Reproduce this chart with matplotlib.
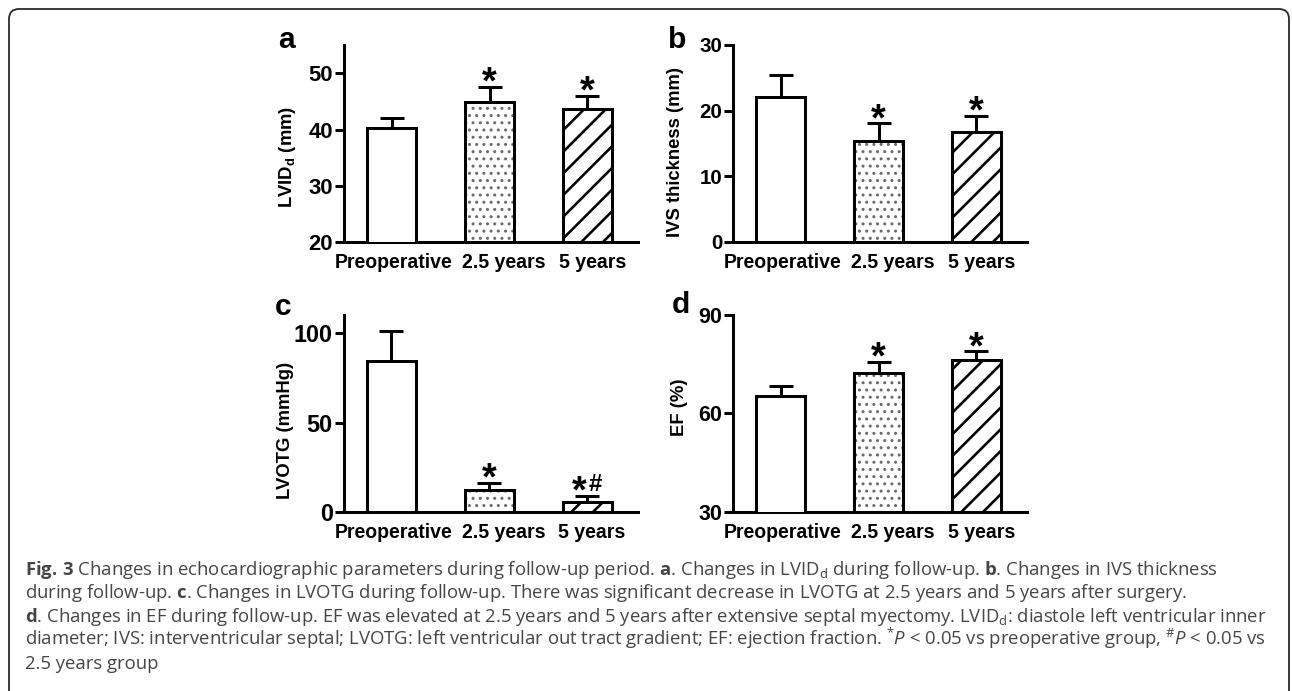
import matplotlib
matplotlib.use("Agg")
import matplotlib.pyplot as plt
from matplotlib.patches import FancyBboxPatch
from matplotlib.transforms import IdentityTransform
import numpy as np

# ---------------- data ----------------
categories = ["Preoperative", "2.5 years", "5 years"]

lvid_mean = [40.3, 44.9, 43.7]
lvid_err = [1.8, 2.7, 2.3]
lvid_sig = ["", "*", "*"]

ivs_mean = [22.1, 15.4, 16.7]
ivs_err = [3.3, 2.7, 2.5]
ivs_sig = ["", "*", "*"]

lvotg_mean = [84.2, 12.4, 5.9]
lvotg_err = [16.8, 4.1, 3.2]
lvotg_sig = ["", "*", "*#"]

ef_mean = [65.3, 72.4, 76.2]
ef_err = [3.0, 3.4, 2.8]
ef_sig = ["", "*", "*"]

caption_lines = [
    r"$\mathbf{Fig.\,3}$ Changes in echocardiographic parameters during follow-up period. $\mathbf{a}$. Changes in LVID$_\mathrm{d}$ during follow-up. $\mathbf{b}$. Changes in IVS thickness",
    r"during follow-up. $\mathbf{c}$. Changes in LVOTG during follow-up. There was significant decrease in LVOTG at 2.5 years and 5 years after surgery.",
    r"$\mathbf{d}$. Changes in EF during follow-up. EF was elevated at 2.5 years and 5 years after extensive septal myectomy. LVID$_\mathrm{d}$: diastole left ventricular inner",
    r"diameter; IVS: interventricular septal; LVOTG: left ventricular out tract gradient; EF: ejection fraction. $^{*}\mathit{P}$ < 0.05 vs preoperative group, $^{\#}\mathit{P}$ < 0.05 vs",
    r"2.5 years group",
]

# ---------------- setup ----------------
W, H, DPI = 1292, 691, 130
PT = 72.0 / DPI  # points per pixel

plt.rcParams["mathtext.fontset"] = "custom"
plt.rcParams["mathtext.rm"] = "Open Sans"
plt.rcParams["mathtext.it"] = "Open Sans:italic"
plt.rcParams["mathtext.bf"] = "Open Sans:bold"
plt.rcParams["hatch.linewidth"] = 2.6 * PT

fig = plt.figure(figsize=(W / DPI, H / DPI), dpi=DPI)
fig.patch.set_facecolor("white")

CHART_FONT = "Liberation Sans"
LW = 3.0 * PT

hatches = [None, "...", "//"]
hatch_colors = ["black", "#6a6a6a", "black"]
label_shift_px = [2, 14, 5]


def add_panel(left, right, top, bottom, ylim, yticks, means, errs, sigs,
              ylabel, letter, letter_xy, ylabel_x, ylabel_yc, tick_px):
    ax = fig.add_axes([left / W, 1 - bottom / H, (right - left) / W, (bottom - top) / H])
    x = np.arange(len(categories))
    ax.errorbar(x, means, yerr=[np.zeros(len(errs)), errs], fmt="none",
                ecolor="black", elinewidth=LW, capsize=11.5 * PT, capthick=LW,
                zorder=1)
    for i in range(len(x)):
        if hatches[i]:
            hb = ax.bar(x[i], means[i], width=0.5, facecolor="white",
                        edgecolor=hatch_colors[i], linewidth=0,
                        hatch=hatches[i], zorder=2)
            if hatches[i] == "..." and hasattr(hb[0], "set_hatch_linewidth"):
                hb[0].set_hatch_linewidth(1.6 * PT)
            ax.bar(x[i], means[i], width=0.5, facecolor="none", edgecolor="black",
                   linewidth=LW, zorder=3)
        else:
            ax.bar(x[i], means[i], width=0.5, facecolor="white", edgecolor="black",
                   linewidth=LW, zorder=3)
    ax.set_xlim(-0.49, 2.52)
    ax.set_ylim(*ylim)
    ax.set_yticks(yticks)
    ax.set_xticks(x)
    ax.set_xticklabels([])
    for i, (cat, sh) in enumerate(zip(categories, label_shift_px)):
        ax.annotate(cat, (x[i], 0), xycoords=("data", "axes fraction"),
                    xytext=(sh * PT, -11 * PT), textcoords="offset points",
                    ha="center", va="top", fontsize=19.5 * PT,
                    fontweight="bold", family=CHART_FONT)
    ax.set_yticklabels([str(t) for t in yticks], fontsize=tick_px * PT,
                       fontweight="bold", family=CHART_FONT)
    ax.tick_params(axis="x", length=0, pad=6)
    ax.tick_params(axis="y", direction="out", length=9 * PT, width=LW, pad=1)
    for s in ["top", "right"]:
        ax.spines[s].set_visible(False)
    for s in ["left", "bottom"]:
        ax.spines[s].set_linewidth(LW)
    ax.patch.set_alpha(0)
    for i in range(len(x)):
        sig = sigs[i]
        if not sig:
            continue
        top_val = means[i] + errs[i]
        if "#" in sig:
            ax.annotate("*", (x[i], top_val), xytext=(-8 * PT, -7 * PT),
                        textcoords="offset points", ha="center", va="baseline",
                        fontsize=38 * PT, fontweight="bold", family=CHART_FONT)
            ax.annotate("#", (x[i], top_val), xytext=(8 * PT, 5 * PT),
                        textcoords="offset points", ha="center", va="baseline",
                        fontsize=24 * PT, fontweight="bold", family=CHART_FONT)
        else:
            ax.annotate(sig, (x[i], top_val), xytext=(0, -7 * PT),
                        textcoords="offset points", ha="center", va="baseline",
                        fontsize=38 * PT, fontweight="bold", family=CHART_FONT)
    fig.text(ylabel_x / W, 1 - ylabel_yc / H, ylabel, rotation=90, ha="center",
             va="center", fontsize=18.5 * PT, fontweight="bold", family=CHART_FONT)
    fig.text(letter_xy[0] / W, 1 - letter_xy[1] / H, letter, ha="left",
             va="baseline", fontsize=30 * PT, fontweight="bold", family=CHART_FONT)
    return ax


add_panel(344, 638, 45, 242.3, (20, 55), [20, 30, 40, 50], lvid_mean, lvid_err,
          lvid_sig, r"LVID$_\mathregular{d}$ (mm)", "a", (278, 48.5), 287, 157, 22)
add_panel(733, 1027, 45, 241.7, (0, 30), [0, 10, 20, 30], ivs_mean, ivs_err,
          ivs_sig, "IVS thickness (mm)", "b", (668, 48), 675, 152, 20.5)
add_panel(343.5, 638, 315, 512.3, (0, 110), [0, 50, 100], lvotg_mean, lvotg_err,
          lvotg_sig, "LVOTG (mmHg)", "c", (275, 315), 285, 430, 23.5)
add_panel(733, 1027, 315, 511.7, (30, 90), [30, 60, 90], ef_mean, ef_err,
          ef_sig, "EF (%)", "d", (672, 313), 680, 407, 21.5)

# caption
baselines = [575, 598.5, 621.8, 645.2, 668.6]
for line, yb in zip(caption_lines, baselines):
    fig.text(25 / W, 1 - yb / H, line, ha="left", va="baseline",
             fontsize=18.5 * PT, family="Open Sans", color="#454545")

# rounded frame
frame = FancyBboxPatch((9, -30), 1289 - 9, (H - 9) + 30,
                       boxstyle="round,pad=0,rounding_size=10",
                       transform=IdentityTransform(), facecolor="none",
                       edgecolor="#2a2a2a", linewidth=1.8 * PT)
fig.patches.append(frame)

fig.savefig("out.png", dpi=DPI, facecolor="white")
